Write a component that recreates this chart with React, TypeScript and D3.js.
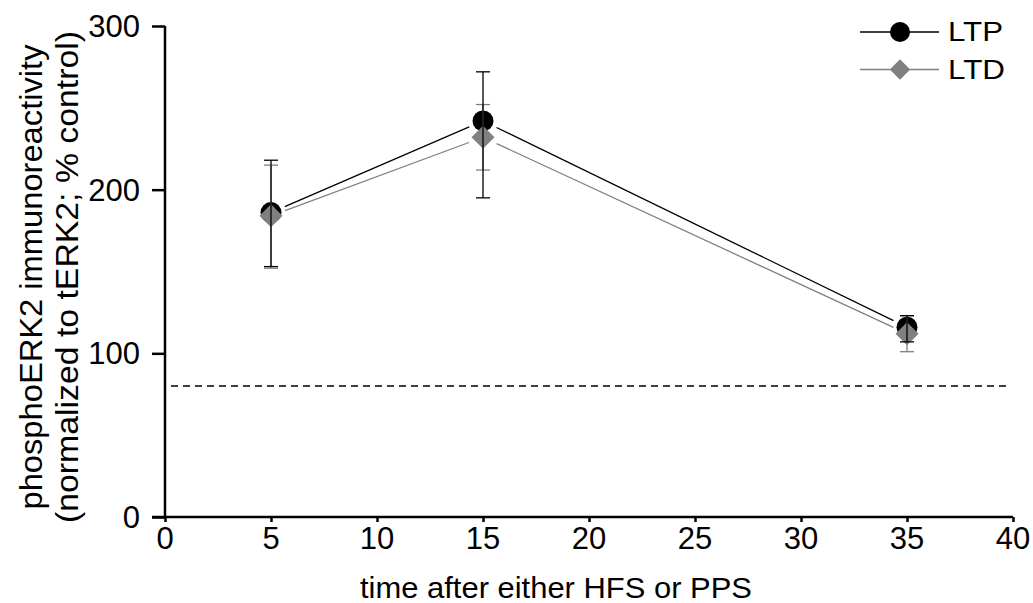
import React, { useEffect, useRef } from "react";
import * as d3 from "d3";

// time after stimulation (min)
const times = [5, 15, 35];
// LTP group (black circles)
const ltpMean = [186, 242, 116];
const ltpHi = [218, 272, 123];
const ltpLo = [153, 195, 107];
// LTD group (gray diamonds)
const ltdMean = [184, 232, 112];
const ltdHi = [215, 252, 123];
const ltdLo = [152, 212, 101];
// control reference level
const controlLevel = 80;

const xTicks = [0, 5, 10, 15, 20, 25, 30, 35, 40];
const yTicks = [0, 100, 200, 300];

const GRAY = "#808080";
const FONT = "'Liberation Sans', Arial, sans-serif";

export default function App() {
  const svgRef = useRef<SVGSVGElement>(null);

  useEffect(() => {
    const svg = d3.select(svgRef.current);
    svg.selectAll("*").remove();

    const x = d3.scaleLinear().domain([0, 40]).range([165, 1013]);
    const y = d3.scaleLinear().domain([0, 300]).range([517, 26]);

    // dashed control line
    svg
      .append("line")
      .attr("x1", 171)
      .attr("x2", 1010)
      .attr("y1", y(controlLevel))
      .attr("y2", y(controlLevel))
      .attr("stroke", "black")
      .attr("stroke-width", 1.5)
      .attr("stroke-dasharray", "7,5");

    // axes
    const yAxis = svg.append("g").attr("transform", "translate(165,0)");
    yAxis.call(d3.axisLeft(y).tickValues(yTicks).tickSize(13).tickFormat(() => ""));
    yAxis.select(".domain").attr("d", `M0,${y(300)}V${y(0)}`);
    yAxis.selectAll("line, path").attr("stroke-width", 2.5);

    const xAxis = svg.append("g").attr("transform", "translate(0,517)");
    xAxis.call(d3.axisBottom(x).tickValues(xTicks).tickSize(5).tickFormat(() => ""));
    xAxis.select(".domain").attr("d", `M152,0H${x(40)}`);
    xAxis.selectAll("line, path").attr("stroke-width", 2.5);

    svg
      .selectAll(".ytl")
      .data(yTicks)
      .enter()
      .append("text")
      .attr("x", 140)
      .attr("y", (d) => y(d))
      .attr("dy", "0.36em")
      .attr("text-anchor", "end")
      .attr("font-family", FONT)
      .attr("font-size", 31)
      .text((d) => d);

    svg
      .selectAll(".xtl")
      .data(xTicks)
      .enter()
      .append("text")
      .attr("x", (d) => x(d))
      .attr("y", 549)
      .attr("text-anchor", "middle")
      .attr("font-family", FONT)
      .attr("font-size", 31)
      .text((d) => d);

    // connecting lines, broken near the markers
    const gap = 15;
    const drawSegments = (vals: number[], color: string) => {
      for (let i = 0; i < vals.length - 1; i++) {
        const x1 = x(times[i]), y1 = y(vals[i]);
        const x2 = x(times[i + 1]), y2 = y(vals[i + 1]);
        const len = Math.hypot(x2 - x1, y2 - y1);
        const ux = (x2 - x1) / len, uy = (y2 - y1) / len;
        svg
          .append("line")
          .attr("x1", x1 + ux * gap)
          .attr("y1", y1 + uy * gap)
          .attr("x2", x2 - ux * gap)
          .attr("y2", y2 - uy * gap)
          .attr("stroke", color)
          .attr("stroke-width", 1.3);
      }
    };
    drawSegments(ltpMean, "black");
    drawSegments(ltdMean, GRAY);

    // markers
    svg
      .selectAll(".ltp")
      .data(ltpMean)
      .enter()
      .append("circle")
      .attr("cx", (d, i) => x(times[i]))
      .attr("cy", (d) => y(d))
      .attr("r", 10.5)
      .attr("fill", "black");

    const diamond = d3.symbol().type(d3.symbolDiamond2).size(2 * 13 * 13);
    svg
      .selectAll(".ltd")
      .data(ltdMean)
      .enter()
      .append("path")
      .attr("d", diamond)
      .attr("transform", (d, i) => `translate(${x(times[i])},${y(d)})`)
      .attr("fill", GRAY);

    // error bars
    const drawErr = (lo: number[], hi: number[], color: string) => {
      times.forEach((t, i) => {
        const cx = x(t);
        const g = svg.append("g").attr("stroke", color).attr("stroke-width", 1.3);
        g.append("line").attr("x1", cx).attr("x2", cx).attr("y1", y(lo[i])).attr("y2", y(hi[i]));
        [lo[i], hi[i]].forEach((v) => {
          g.append("line")
            .attr("x1", cx - 7)
            .attr("x2", cx + 7)
            .attr("y1", y(v))
            .attr("y2", y(v));
        });
      });
    };
    drawErr(ltdLo, ltdHi, GRAY);
    drawErr(ltpLo, ltpHi, "black");

    // legend
    const legend = svg.append("g");
    legend.append("line").attr("x1", 860).attr("x2", 939).attr("y1", 32).attr("y2", 32)
      .attr("stroke", "black").attr("stroke-width", 1.3);
    legend.append("circle").attr("cx", 900).attr("cy", 32).attr("r", 10).attr("fill", "black");
    legend.append("text").attr("x", 948).attr("y", 41)
      .attr("font-family", FONT).attr("font-size", 28)
      .attr("textLength", 55).attr("lengthAdjust", "spacingAndGlyphs").text("LTP");

    legend.append("line").attr("x1", 860).attr("x2", 939).attr("y1", 69.5).attr("y2", 69.5)
      .attr("stroke", GRAY).attr("stroke-width", 1.3);
    legend.append("path")
      .attr("d", d3.symbol().type(d3.symbolDiamond2).size(2 * 11.5 * 11.5))
      .attr("transform", "translate(900,69.5)").attr("fill", GRAY);
    legend.append("text").attr("x", 948).attr("y", 78.5)
      .attr("font-family", FONT).attr("font-size", 28)
      .attr("textLength", 57).attr("lengthAdjust", "spacingAndGlyphs").text("LTD");

    // axis titles
    svg.append("text")
      .attr("x", 556).attr("y", 598)
      .attr("text-anchor", "middle")
      .attr("font-family", FONT).attr("font-size", 29)
      .attr("textLength", 392).attr("lengthAdjust", "spacingAndGlyphs")
      .text("time after either HFS or PPS");

    const yTitle = svg.append("g").attr("transform", "translate(0,277) rotate(-90)");
    yTitle.append("text")
      .attr("x", 0).attr("y", 42)
      .attr("text-anchor", "middle")
      .attr("font-family", FONT).attr("font-size", 31)
      .attr("textLength", 465).attr("lengthAdjust", "spacingAndGlyphs")
      .text("phosphoERK2 immunoreactivity");
    yTitle.append("text")
      .attr("x", 0).attr("y", 78)
      .attr("text-anchor", "middle")
      .attr("font-family", FONT).attr("font-size", 31)
      .attr("textLength", 492).attr("lengthAdjust", "spacingAndGlyphs")
      .text("(normalized to tERK2; % control)");
  }, []);

  return (
    <div style={{ position: "absolute", left: 0, top: 0 }}>
      <svg ref={svgRef} width={1033} height={603} style={{ display: "block", background: "white" }} />
    </div>
  );
}
